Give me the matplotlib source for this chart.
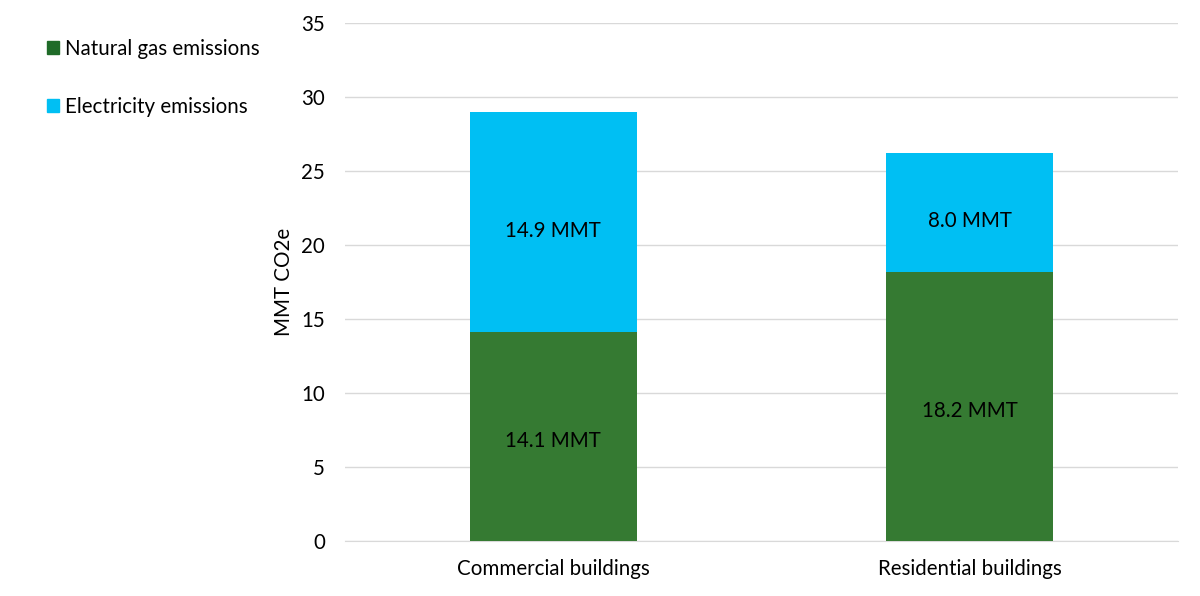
import numpy as np
import matplotlib.pyplot as plt
from matplotlib.patches import Patch

plt.rcParams['font.family'] = ['Lato', 'DejaVu Sans']

# data
categories = ['Commercial buildings', 'Residential buildings']
gas_mmt = [14.1, 18.2]
elec_mmt = [14.9, 8.0]
series_names = ['Natural gas emissions', 'Electricity emissions']

GAS_COLOR = '#357A32'
GAS_LEGEND = '#1F6B28'
ELEC_COLOR = '#00BFF3'
GRID_COLOR = '#D9D9D9'
FS = 14.8

fig = plt.figure(figsize=(12, 5.96), dpi=100)
ax = fig.add_axes([0.2875, 0.0923, 0.6942, 0.8691])

x = np.arange(len(categories))
ax.bar(x, gas_mmt, width=0.4, color=GAS_COLOR, zorder=3)
ax.bar(x, elec_mmt, width=0.4, bottom=gas_mmt, color=ELEC_COLOR, zorder=3)

for xi, g, e in zip(x, gas_mmt, elec_mmt):
    ax.text(xi, g / 2 - 0.3, f'{g:.1f} MMT', ha='center', va='center',
            fontsize=FS, color='black', zorder=4)
    ax.text(xi, g + e / 2 - 0.6, f'{e:.1f} MMT', ha='center', va='center',
            fontsize=FS, color='black', zorder=4)

ax.set_xlim(-0.5, 1.5)
ax.set_ylim(0, 35)
ax.set_yticks(np.arange(0, 36, 5))
ax.yaxis.grid(True, color=GRID_COLOR, lw=1, zorder=0)
for s in ['top', 'right', 'left']:
    ax.spines[s].set_visible(False)
ax.spines['bottom'].set_color(GRID_COLOR)
ax.tick_params(axis='both', length=0, labelsize=FS, colors='black')
ax.tick_params(axis='y', pad=14.5)
ax.tick_params(axis='x', pad=13)
ax.set_xticks(x)
ax.set_xticklabels(categories)
ax.set_ylabel('MMT CO2e', fontsize=FS, labelpad=5)

handles = [Patch(color=GAS_LEGEND), Patch(color=ELEC_COLOR)]
fig.legend(handles, series_names, loc='upper left', bbox_to_anchor=(0.0235, 0.966),
           frameon=False, fontsize=FS, handlelength=0.6, handleheight=0.6,
           handletextpad=0.3, labelspacing=1.85)

fig.savefig('out.png', dpi=100)
